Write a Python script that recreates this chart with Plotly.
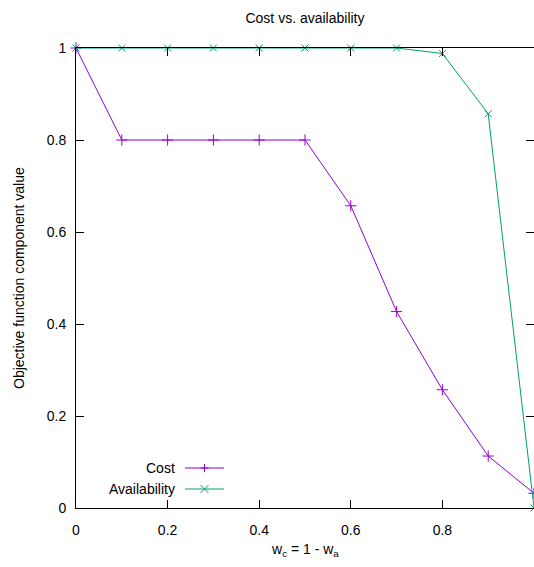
import plotly.graph_objects as go

weights = [0.0, 0.1, 0.2, 0.3, 0.4, 0.5, 0.6, 0.7, 0.8, 0.9, 1.0]
cost = [1.0, 0.8, 0.8, 0.8, 0.8, 0.8, 0.657, 0.427, 0.257, 0.113, 0.032]
availability = [1.0, 1.0, 1.0, 1.0, 1.0, 1.0, 1.0, 1.0, 0.988, 0.857, 0.0]
series_names = ["Cost", "Availability"]
x_ticks = [0, 0.2, 0.4, 0.6, 0.8]
x_tick_labels = ["0", "0.2", "0.4", "0.6", "0.8"]
y_ticks = [0, 0.2, 0.4, 0.6, 0.8, 1]
y_tick_labels = ["0", "0.2", "0.4", "0.6", "0.8", "1"]

PURPLE = "#9400d3"
GREEN = "#009e73"
FONT = "Liberation Sans, Arial, sans-serif"
FS = 14

W, H = 534, 567
L, R, T, B = 76, 0, 48, 59
PW, PH = W - L - R, H - T - B

fig = go.Figure()
fig.add_trace(go.Scatter(x=weights, y=cost, mode="lines+markers", name=series_names[0],
                         line=dict(color=PURPLE, width=1),
                         marker=dict(symbol="cross-thin-open", size=8, color=PURPLE,
                                     line=dict(color=PURPLE, width=1)),
                         cliponaxis=False))
fig.add_trace(go.Scatter(x=weights, y=availability, mode="lines+markers", name=series_names[1],
                         line=dict(color=GREEN, width=1),
                         marker=dict(symbol="x-thin-open", size=7, color=GREEN,
                                     line=dict(color=GREEN, width=1)),
                         cliponaxis=False))

def px_x(p):
    return (p - L) / PW

def px_y(p):
    return (H - B - p) / PH

# manual gnuplot-style legend (text on the left, sample on the right)
legend_rows = [(px_y(468), PURPLE, "plus"), (px_y(489), GREEN, "x")]
for name, (yy, col, kind) in zip(series_names, legend_rows):
    fig.add_annotation(x=px_x(177), y=yy, xref="paper", yref="paper", text=name,
                       showarrow=False, xanchor="right", yanchor="middle",
                       font=dict(family=FONT, size=FS, color="black"))
    fig.add_shape(type="line", xref="paper", yref="paper", x0=px_x(185), x1=px_x(224), y0=yy, y1=yy,
                  line=dict(color=col, width=1))
    cx, dx, dy = px_x(204.5), 4.0 / PW, 4.0 / PH
    if kind == "plus":
        path = f"M{cx-dx},{yy} L{cx+dx},{yy} M{cx},{yy-dy} L{cx},{yy+dy}"
    else:
        path = f"M{cx-dx},{yy-dy} L{cx+dx},{yy+dy} M{cx-dx},{yy+dy} L{cx+dx},{yy-dy}"
    fig.add_shape(type="path", xref="paper", yref="paper", path=path,
                  line=dict(color=col, width=1))

# axis titles
fig.add_annotation(x=px_x(305), y=px_y(550), xref="paper", yref="paper",
                   text="w<sub>c</sub> = 1 - w<sub>a</sub>", showarrow=False,
                   xanchor="center", yanchor="middle", font=dict(family=FONT, size=FS))
fig.add_annotation(x=px_x(19), y=px_y(278), xref="paper", yref="paper",
                   text="Objective function component value", showarrow=False, textangle=-90,
                   xanchor="center", yanchor="middle", font=dict(family=FONT, size=FS))

fig.update_layout(
    width=W, height=H,
    margin=dict(l=L, r=R, t=T, b=B),
    paper_bgcolor="white", plot_bgcolor="white",
    showlegend=False,
    font=dict(family=FONT, size=FS, color="black"),
    title=dict(text="Cost vs. availability", x=(305 / W), xanchor="center",
               y=1 - 18 / H, yanchor="middle", font=dict(family=FONT, size=FS)),
)
fig.update_xaxes(range=[0, 1.0], tickvals=x_ticks, ticktext=x_tick_labels, automargin=False,
                 showgrid=False, zeroline=False, showline=True, linecolor="black", linewidth=1,
                 mirror="ticks", ticks="inside", ticklen=8, tickcolor="black",
                 ticklabelstandoff=9, tickfont=dict(family=FONT, size=FS))
fig.update_yaxes(range=[0, 1], tickvals=y_ticks, ticktext=y_tick_labels, automargin=False,
                 showgrid=False, zeroline=False, showline=True, linecolor="black", linewidth=1,
                 mirror="ticks", ticks="inside", ticklen=8, tickcolor="black",
                 ticklabelstandoff=6, tickfont=dict(family=FONT, size=FS))

fig.write_html("out.html", config={"displayModeBar": False},
               post_script="document.body.style.margin='0';document.body.style.overflow='hidden';")
